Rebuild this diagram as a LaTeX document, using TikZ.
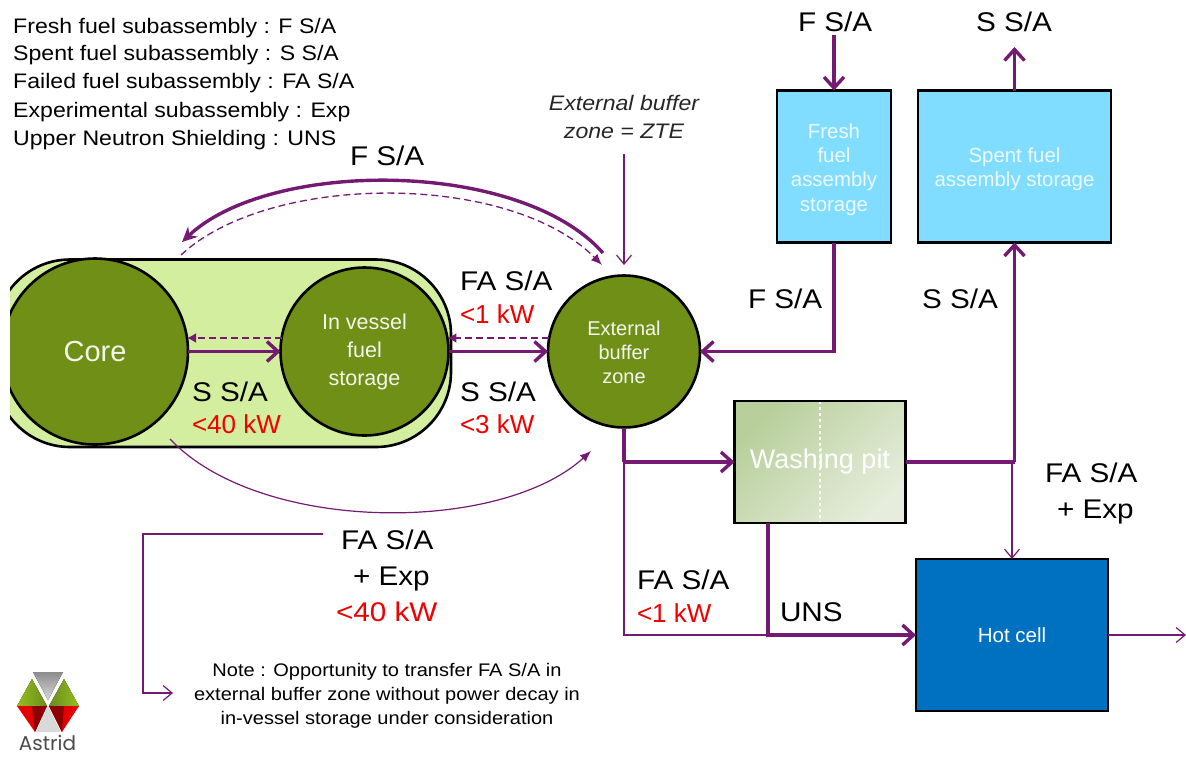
\documentclass[tikz,border=0pt]{standalone}
\usepackage{fontspec}
\setmainfont{Liberation Sans}
\newfontfamily\wide[FakeStretch=1.1]{Liberation Sans}
\newfontfamily\logofont{Poppins}
\usetikzlibrary{arrows.meta,shapes.geometric,calc}
\definecolor{flow}{HTML}{751A73}
\definecolor{leaf}{HTML}{6F8F17}
\definecolor{pillc}{HTML}{D3EE9F}
\definecolor{skyc}{HTML}{80DDFF}
\definecolor{hotc}{HTML}{0070C0}
\definecolor{redtxt}{HTML}{F00000}
\newcommand{\fs}[1]{\fontsize{#1}{#1}\selectfont}
\tikzset{
  x=1pt,y=-1pt,
  lab/.style={anchor=base west,inner sep=0,outer sep=0,text=black,font=\wide\fs{27}},
  redlab/.style={anchor=base west,inner sep=0,outer sep=0,text=redtxt,font=\fs{26}},
  legend/.style={anchor=base west,inner sep=0,font=\wide\fs{21}},
  notetxt/.style={anchor=base,inner sep=0,font=\wide\fs{18.2}},
  zte/.style={anchor=base,inner sep=0,font=\wide\fs{21}\itshape,text=black!85},
  disc/.style={circle,draw=black,line width=2.6pt,fill=leaf,inner sep=0,outer sep=0,text=white!92!leaf,align=center},
  boxn/.style={rectangle,draw=black,line width=2.6pt,inner sep=0,outer sep=0},
  boxtxt/.style={inner sep=0,align=center,text=white!85!skyc,font=\fs{20.4}},
  thickflow/.style={draw=flow,line width=3.4pt,-{Straight Barb[length=11pt,width=20pt,line width=3.4pt]}},
  thickplain/.style={draw=flow,line width=3.4pt},
  thinflow/.style={draw=flow,line width=1.2pt,-{Straight Barb[length=9pt,width=15pt,line width=1.2pt]}},
  thinplain/.style={draw=flow,line width=1.2pt},
  dashflow/.style={draw=flow,line width=1.7pt,dash pattern=on 7pt off 4pt,-{Latex[length=9pt,width=10pt]}},
}
\begin{document}
\begin{tikzpicture}
\useasboundingbox (0,0) rectangle (1186,756);
\fill[white] (0,0) rectangle (1186,756);

% holder with core, clipped on the left
\begin{scope}
  \clip (10,240) rectangle (470,460);
  \draw[black,line width=2.6pt,fill=pillc,rounded corners=75pt] (-5,259.5) rectangle (451,447);
  \node[disc,minimum size=186pt,font=\fs{29}] (core) at (95,351.5) {Core};
\end{scope}
\node[disc,minimum size=168pt,font=\fs{21.5}] (vessel) at (364.5,351.5)
  {In vessel\\[6.5pt]fuel\\[6.5pt]storage};
\node[disc,minimum size=152pt,font=\fs{20}] (ext) at (624,351.5) {};
\node[inner sep=0,align=center,text=white!92!leaf,font=\fs{20}] (exttxt) at (624,352.5)
  {External\\[4pt]buffer\\[4pt]zone};

% boxes
\node[boxn,fill=skyc,minimum width=114pt,minimum height=152pt] (fresh) at (834,166.5) {};
\node[boxtxt] (freshtxt) at ($(fresh.center)+(0,3)$) {Fresh\\[4pt]fuel\\[4pt]assembly\\[4pt]storage};
\node[boxn,fill=skyc,minimum width=193pt,minimum height=152pt] (spent) at (1014.5,166.5) {};
\node[boxtxt] (spenttxt) at ($(spent.center)+(0,3)$) {Spent fuel\\[4pt]assembly storage};
\node[boxn,minimum width=171pt,minimum height=122pt] (wash) at (820,462) {};
\fill[left color={rgb,255:red,184;green,207;blue,155},right color={rgb,255:red,230;green,237;blue,220},shading angle=45]
  (wash.south west) rectangle (wash.north east);
\draw[white,line width=1.2pt,dashed] (wash.north) -- (wash.south);
\draw[black,line width=2.6pt] (wash.south west) rectangle (wash.north east);
\node[text=white,font=\fs{27},inner sep=0] (washtxt) at (wash.center) {Washing pit};
\node[boxn,fill=hotc,minimum width=192pt,minimum height=152pt,text=white,font=\fs{20.5}] (hot) at (1012,635) {Hot cell};

% free ends
\coordinate (zte0) at (624,154);
\coordinate (zte1) at (624,265);
\coordinate (freshin) at (834,35);
\coordinate (spentout) at (1014.5,47);
\coordinate (unsx) at (768,635);
\coordinate (exitp) at (1186,635);
\coordinate (junc) at (1014.5,462);
\coordinate (extdrop) at (624,462);
\coordinate (thinj) at (1012,462);
\coordinate (topa) at (603,253);
\coordinate (topb) at (182,242);
\coordinate (dasha) at (181,255);
\coordinate (dashb) at (602,265);
\coordinate (bota) at (170,439);
\coordinate (botb) at (591,451);
\coordinate (notea) at (323,534);
\coordinate (noteb) at (143,534);
\coordinate (notec) at (143,693);
\coordinate (noted) at (173,693);

% horizontal flows between discs
\draw[thickflow] (core.east) -- (vessel.west);
\draw[thickflow] (vessel.east) -- (ext.west);
\draw[dashflow] ($(vessel.center)+(-82.9,-13.5)$) -- ($(core.center)+(92,-13.5)$);
\draw[dashflow] ($(ext.center)+(-74.8,-13.5)$) -- ($(vessel.center)+(82.9,-13.5)$);

% curves
\draw[draw=flow,line width=3.4pt,-{Stealth[length=15pt,width=14pt]}] (topa) .. controls (520,159) and (270,159) .. (topb);
\draw[draw=flow,line width=1.3pt,dash pattern=on 7pt off 4pt,-{Latex[length=11pt,width=9pt]}] (dasha) .. controls (270,172) and (510,172) .. (dashb);
\draw[draw=flow,line width=1.2pt,-{Latex[length=11pt,width=9pt]}] (bota) .. controls (260,534) and (500,534) .. (botb);

% external-buffer connections
\draw[thinflow] (zte0) -- (zte1);
\draw[thickflow] (fresh.south) |- (ext.east);
\draw[thickplain] (ext.south) -- (extdrop);
\draw[thickflow] (extdrop) -- (wash.west);
\draw[thinplain] (extdrop) |- (unsx);
\draw[thickflow] (wash.south -| unsx) |- (hot.west);
\draw[thickplain] (wash.east) -- (junc);
\draw[thickflow] (junc) -- (spent.south);
\draw[thinflow] (thinj) -- (hot.north);
\draw[thinflow] (hot.east) -- (exitp);
\draw[thickflow] (freshin) -- (fresh.north);
\draw[thickflow] (spent.north) -- (spentout);
\draw[thinflow] (notea) -- (noteb) -- (notec) -- (noted);

% legend
\node[legend] (l1) at (13,33) {Fresh fuel subassembly : F S/A};
\node[legend] (l2) at (13,60.5) {Spent fuel subassembly : S S/A};
\node[legend] (l3) at (13,88.5) {Failed fuel subassembly : FA S/A};
\node[legend] (l4) at (13,117) {Experimental subassembly : Exp};
\node[legend] (l5) at (13,145) {Upper Neutron Shielding : UNS};

% labels
\node[lab] (t1) at (350,165) {F S/A};
\node[lab] (t2) at (460,290) {FA S/A};
\node[redlab] (t3) at (460,323) {<1 kW};
\node[lab] (t4) at (460,401) {S S/A};
\node[redlab] (t5) at (460,433) {<3 kW};
\node[lab] (t6) at (192,401) {S S/A};
\node[redlab] (t7) at (192,433) {<40 kW};
\node[lab] (t8) at (798,31) {F S/A};
\node[lab] (t9) at (976,31) {S S/A};
\node[lab] (t10) at (748,308) {F S/A};
\node[lab] (t11) at (922,308) {S S/A};
\node[lab] (t12) at (1045,482) {FA S/A};
\node[lab] (t13) at (1057,518) {+ Exp};
\node[lab] (t14) at (637,589) {FA S/A};
\node[redlab] (t15) at (637,622) {<1 kW};
\node[lab] (t16) at (780,621) {UNS};
\node[lab] (t17) at (341,549) {FA S/A};
\node[lab] (t18) at (353,585) {+ Exp};
\node[redlab,font=\wide\fs{27}] (t19) at (336,621) {<40 kW};
\node[zte] (z1) at (624,110) {External buffer};
\node[zte] (z2) at (624,138) {zone = ZTE};
\node[notetxt] (n1) at (387,676) {Note : Opportunity to transfer FA S/A in};
\node[notetxt] (n2) at (387,700) {external buffer zone without power decay in};
\node[notetxt] (n3) at (387,724) {in-vessel storage under consideration};

% logo
\fill[top color=black!45,bottom color=black!15] (33,672) -- (63,672) -- (48,700) -- cycle;
\fill[left color={rgb,255:red,150;green,190;blue,30},right color={rgb,255:red,105;green,140;blue,30}] (32,679) -- (17,706) -- (47,706) -- cycle;
\fill[left color={rgb,255:red,105;green,140;blue,30},right color={rgb,255:red,150;green,190;blue,30}] (64,679) -- (79,706) -- (49,706) -- cycle;
\fill[red!90!black] (17,706) -- (47,706) -- (35,732) -- cycle;
\fill[red!90!black] (79,706) -- (49,706) -- (62,732) -- cycle;
\fill[red!55!black] (32,706) -- (47,706) -- (35,732) -- cycle;
\fill[red!55!black] (64,706) -- (49,706) -- (62,732) -- cycle;
\fill[black!15] (48,706) -- (36,732) -- (61,732) -- cycle;
\node[anchor=base,inner sep=0,text=black!70,font=\logofont\fs{20}] (logo) at (47.5,750.5) {Astrid};
\end{tikzpicture}
\end{document}
